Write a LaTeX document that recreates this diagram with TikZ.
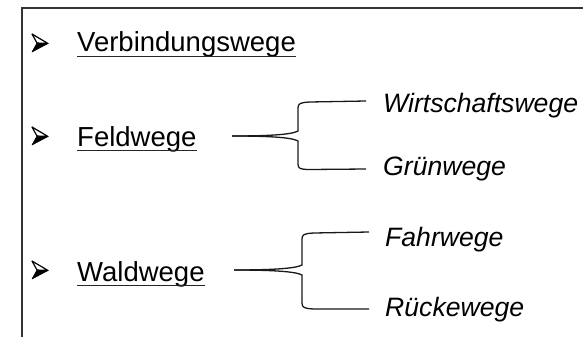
\documentclass[tikz,border=0pt]{standalone}
\usepackage{fontspec}
\setmainfont{Liberation Sans}
\begin{document}
\begin{tikzpicture}[x=1pt,y=-1pt,
  frame/.style={draw=black!80,line width=2pt},
  main/.style={anchor=base west,inner sep=0pt,font=\fontsize{27.5}{30}\selectfont},
  sub/.style={anchor=base west,inner sep=0pt,font=\fontsize{26.6}{30}\selectfont\itshape},
  uline/.style={line width=1.8pt,black!85},
  brace/.style={draw=black!90,line width=1.3pt},
  arrowbullet/.pic={
    \filldraw[black,line width=0.6pt,line join=round] (-3,0) -- (8,0.5) -- (-8,9) -- cycle;
    \filldraw[fill=white,draw=black,line width=1.2pt,line join=round] (-8,-9) -- (8,0.5) -- (-3,0) -- cycle;
  }]
\useasboundingbox (0,0) rectangle (583,337);
% frame lines
\draw[frame] (583,7.7) -- (22,7.7) -- (22,337);

% bullets
\pic at (40,43) {arrowbullet};
\pic at (40,136) {arrowbullet};
\pic at (40,270) {arrowbullet};

% main items
\node[main] (verb) at (77,52) {Verbindungswege};
\node[main] (feld) at (77,146) {Feldwege};
\node[main] (wald) at (77,281) {Waldwege};
\foreach \n in {verb,feld,wald}
  \draw[uline] ([yshift=-4.5pt]\n.base west) -- ([yshift=-4.5pt]\n.base east);

% sub items
\node[sub] (wirt) at (383,112) {Wirtschaftswege};
\node[sub] (gruen) at (383,175) {Grünwege};
\node[sub] (fahr) at (385,246.5) {Fahrwege};
\node[sub] (rueck) at (385,316) {Rückewege};

% brace connectors
\coordinate (ftip) at (232,136);
\coordinate (wtip) at (234,270);
\coordinate (ftop) at (366,101);
\coordinate (fbot) at (366,169);
\coordinate (wtop) at (369,232);
\coordinate (wbot) at (369,309);

\draw[brace] (ftip) .. controls (270,136) and (292,134.5) .. (298,131)
  -- (298,108) .. controls (298,103.5) and (300,102.5) .. (310,102) -- (ftop);
\draw[brace] (ftip) .. controls (270,136) and (292,137.5) .. (298,141)
  -- (298,164) .. controls (298,168.5) and (300,169.5) .. (310,169.5) -- (fbot);

\draw[brace] (wtip) .. controls (272,270) and (296,268.5) .. (302,265)
  -- (302,239) .. controls (302,234.5) and (304,233.5) .. (314,233) -- (wtop);
\draw[brace] (wtip) .. controls (272,270) and (296,271.5) .. (302,275)
  -- (302,303) .. controls (302,307.5) and (304,308.5) .. (314,309) -- (wbot);
\end{tikzpicture}
\end{document}
